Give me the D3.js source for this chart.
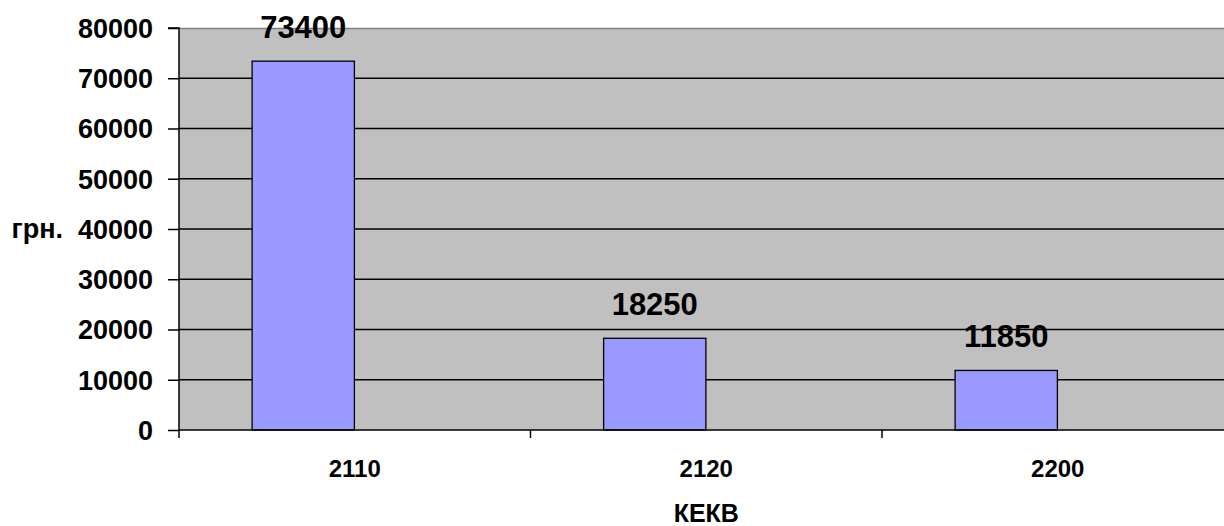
<!DOCTYPE html>
<html>
<head>
<meta charset="utf-8">
<script src="https://cdn.jsdelivr.net/npm/d3@7"></script>
<style>
html,body{margin:0;padding:0;background:#fff;overflow:hidden;}
text{font-family:"Liberation Sans",Arial,sans-serif;font-weight:bold;fill:#000;}
</style>
</head>
<body>
<svg id="chart" width="1224" height="526"></svg>
<script>
const categories = ["2110", "2120", "2200"];
const values = [73400, 18250, 11850];
const yTicks = [0, 10000, 20000, 30000, 40000, 50000, 60000, 70000, 80000];
const yTitle = "грн.";
const xTitle = "КЕКВ";
const seriesSlots = ["value", "empty"];

(function () {
const svg = d3.select("#chart");
const pLeft = 179, pRight = 1233.5, pTop = 28, pBottom = 430;

const x = d3.scaleBand().domain(categories).range([pLeft, pRight]).paddingInner(0).paddingOuter(0);
const bw = x.bandwidth();
const x1 = d3.scaleBand().domain(seriesSlots).range([bw * 0.208, bw * 0.79]);
const y = d3.scaleLinear().domain([0, 80000]).range([pBottom, pTop]);

// plot background
svg.append("rect").attr("x", pLeft).attr("y", pTop).attr("width", pRight - pLeft).attr("height", pBottom - pTop)
  .attr("fill", "#C0C0C0");
svg.append("line").attr("x1", pLeft).attr("x2", pRight).attr("y1", pTop + 0.5).attr("y2", pTop + 0.5)
  .attr("stroke", "#808080").attr("stroke-width", 1.5);

// gridlines
svg.append("g").selectAll("line").data(yTicks.filter(d => d > 0 && d < 80000)).join("line")
  .attr("x1", pLeft).attr("x2", pRight)
  .attr("y1", d => y(d)).attr("y2", d => y(d))
  .attr("stroke", "#000").attr("stroke-width", 1.3);

// bars
svg.append("g").selectAll("rect").data(categories).join("rect")
  .attr("x", (c) => x(c) + x1("value"))
  .attr("y", (c, i) => y(values[i]))
  .attr("width", x1.bandwidth())
  .attr("height", (c, i) => y(0) - y(values[i]))
  .attr("fill", "#9999FF").attr("stroke", "#000").attr("stroke-width", 1.3);

// value labels
svg.append("g").selectAll("text").data(categories).join("text")
  .attr("x", c => x(c) + x1("value") + x1.bandwidth() / 2)
  .attr("y", (c, i) => y(values[i]) - 23)
  .attr("text-anchor", "middle").attr("font-size", "31px")
  .text((c, i) => values[i]);

// y axis
const yAxis = d3.axisLeft(y).tickValues(yTicks).tickSize(11).tickPadding(15).tickFormat(d3.format("d"));
const gy = svg.append("g").attr("transform", `translate(${pLeft},0)`).call(yAxis);
gy.select(".domain").attr("stroke", "#000").attr("stroke-width", 1.5).attr("d", `M-11,${pTop}H0V${pBottom}`);
gy.selectAll(".tick line").attr("stroke", "#000").attr("stroke-width", 1.5);
gy.selectAll(".tick text").attr("font-size", "27px").attr("font-family", "Liberation Sans, Arial, sans-serif")
  .attr("font-weight", "bold").attr("fill", "#000").attr("dy", "0.35em");

// x axis
const gx = svg.append("g").attr("transform", `translate(0,${pBottom})`);
gx.append("line").attr("x1", pLeft).attr("x2", pRight).attr("y1", 0).attr("y2", 0)
  .attr("stroke", "#000").attr("stroke-width", 1.5);
gx.selectAll("line.tk").data(categories).join("line").attr("class", "tk")
  .attr("x1", c => x(c)).attr("x2", c => x(c)).attr("y1", 0).attr("y2", 8)
  .attr("stroke", "#000").attr("stroke-width", 1.5);
gx.selectAll("text").data(categories).join("text")
  .attr("x", c => x(c) + bw / 2).attr("y", 47)
  .attr("text-anchor", "middle").attr("font-size", "24px")
  .text(c => c);

// titles
svg.append("text").attr("x", 63).attr("y", y(40000)).attr("dy", "0.35em")
  .attr("text-anchor", "end").attr("font-size", "27px").text(yTitle);
svg.append("text").attr("x", (pLeft + pRight) / 2).attr("y", 522)
  .attr("text-anchor", "middle").attr("font-size", "25px").text(xTitle);
})();
</script>
</body>
</html>
